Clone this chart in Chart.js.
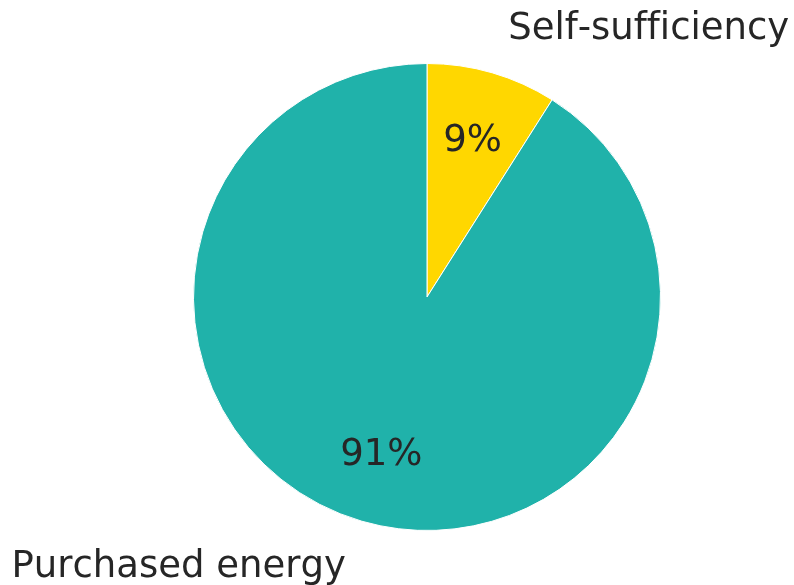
<!DOCTYPE html>
<html>
<head>
<meta charset="utf-8">
<script src="https://cdn.jsdelivr.net/npm/chart.js@4/dist/chart.umd.min.js"></script>
<style>
  html, body { margin: 0; padding: 0; background: #fff; }
  #wrap { width: 794px; height: 585px; }
</style>
</head>
<body>
<div id="wrap"><canvas id="pie"></canvas></div>
<script>
const labels = ['Self-sufficiency', 'Purchased energy'];
const shares = [9, 91];
const colors = ['#FFD700', '#20B2AA'];

const textColor = '#262626';
const fontSize = 37;

// draws glyph by glyph so the canvas does not merge "ffi" into a ligature
function plainText(ctx, str, x, y, align) {
    let w = 0;
    for (const ch of str) w += ctx.measureText(ch).width;
    let pos = align === 'right' ? x - w : align === 'center' ? x - w / 2 : x;
    ctx.textAlign = 'left';
    for (const ch of str) {
        ctx.fillText(ch, pos, y);
        pos += ctx.measureText(ch).width;
    }
}

// matplotlib-style labels: names at 1.2 r, percents at 0.7 r
const pieLabels = {
    id: 'pieLabels',
    afterDatasetsDraw(c) {
        const ctx = c.ctx;
        const total = shares.reduce((a, b) => a + b, 0);
        ctx.save();
        ctx.font = fontSize + 'px "DejaVu Sans"';
        ctx.fillStyle = textColor;
        ctx.textBaseline = 'middle';
        c.getDatasetMeta(0).data.forEach((arc, i) => {
            const mid = (arc.startAngle + arc.endAngle) / 2;
            const r = arc.outerRadius;
            const cx = Math.cos(mid), cy = Math.sin(mid);

            const side = cx >= 0 ? 1 : -1;
            plainText(ctx, labels[i], arc.x + cx * r * 1.2 + side * 3, arc.y + cy * r * 1.2 + 1,
                side > 0 ? 'left' : 'right');

            const pct = Math.round(shares[i] / total * 100) + '%';
            plainText(ctx, pct, arc.x + cx * r * 0.7, arc.y + cy * r * 0.7 + 1, 'center');
        });
        ctx.restore();
    }
};

new Chart(document.getElementById('pie'), {
    type: 'pie',
    data: {
        labels: labels,
        datasets: [{
            data: shares,
            backgroundColor: colors,
            borderColor: '#ffffff',
            borderWidth: 1
        }]
    },
    options: {
        responsive: true,
        maintainAspectRatio: false,
        animation: false,
        layout: { padding: { top: 63, bottom: 54, left: 193, right: 133 } },
        plugins: {
            legend: { display: false },
            tooltip: { enabled: false }
        }
    },
    plugins: [pieLabels]
});
</script>
</body>
</html>
